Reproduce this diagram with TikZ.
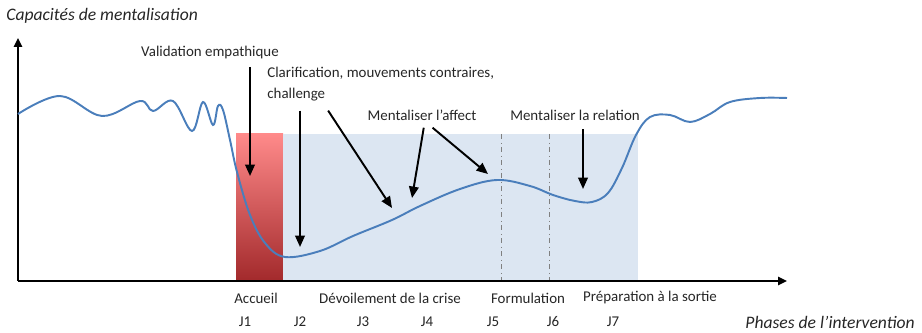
\documentclass[tikz,border=0pt]{standalone}
\usepackage{fontspec}
\setmainfont{Carlito}
\usetikzlibrary{arrows.meta}
\definecolor{curveblue}{HTML}{4A7EBB}
\definecolor{phaseblue}{HTML}{DCE6F2}
\definecolor{txt}{HTML}{262626}
\definecolor{redtop}{HTML}{FF8A8A}
\definecolor{redmid}{HTML}{E8383C}
\definecolor{redbot}{HTML}{A32A2C}

\begin{document}
\begin{tikzpicture}
[x=0.02cm,y=-0.02cm,
every node/.style={font=\fontsize{8.5}{10}\selectfont,text=txt,inner sep=0pt},
axe/.style={line width=1.2pt,-{Triangle[width=4.5pt,length=5pt]}},
arr/.style={line width=1.1pt,-{Triangle[width=5.5pt,length=6.5pt]}},
axlabel/.style={font=\fontsize{10}{12}\selectfont\itshape}]
\useasboundingbox (0,0) rectangle (922,333);
% zones
\shade[top color=redtop,middle color=redmid,bottom color=redbot] (236,134) rectangle (283,280);
\fill[phaseblue] (283,134) rectangle (638,280);
\draw[gray,thin,dash dot] (501,134) -- (501,280);
\draw[gray,thin,dash dot] (549,134) -- (549,280);
% axes
\coordinate (o) at (18,281);
\draw[axe] (o) -- (18,38);
\draw[axe] (o) -- (787,281);
\node[axlabel,anchor=west] (ylab) at (6,16) {Capacités de mentalisation};
\node[axlabel,anchor=east] (xlab) at (915,322) {Phases de l’intervention};
% courbe
\draw[curveblue,line width=1.1pt] plot[smooth,tension=0.6] coordinates {
(18,114) (60,96) (102,116) (140,101) (153,111) (173,101) (192,131) (203,102)
(213,125) (218,106) (223,110) (230,140) (237,172) (250,215) (265,243) (285,257)
(320,251) (353,236) (392,220) (420,206) (460,189) (497,180) (530,186) (553,195)
(575,201) (592,202) (608,193) (622,168) (636,135) (650,117) (670,115) (690,122)
(710,114) (730,102) (760,98) (787,98)};
% interventions
\node (val) at (210,53) {Validation empathique};
\node[anchor=west,align=left] (clar) at (267,73) {Clarification, mouvements contraires,};
\node[anchor=west] (chal) at (267,95) {challenge};
\node (aff) at (422,115) {Mentaliser l’affect};
\node (rel) at (575,115) {Mentaliser la relation};
\coordinate (t1) at (250,176);
\coordinate (t2) at (300,247);
\coordinate (t3) at (392,208);
\coordinate (t4) at (412,198);
\coordinate (t5) at (488,174);
\coordinate (t6) at (583,189);
\draw[arr] ([yshift=-4pt]val.south -| t1) -- (t1);
\draw[arr] ([yshift=-5pt]chal.south -| t2) -- (t2);
\draw[arr] ([xshift=16pt,yshift=-5pt]chal.south -| t2) -- (t3);
\draw[arr] ([xshift=1pt,yshift=-4pt]aff.south) -- (t4);
\draw[arr] ([xshift=6pt,yshift=-4pt]aff.south) -- (t5);
\draw[arr] ([yshift=-5pt]rel.south -| t6) -- (t6);
% phases
\node (p1) at (256,298) {Accueil};
\node (p2) at (390,298) {Dévoilement de la crise};
\node (p3) at (528,298) {Formulation};
\node (p4) at (650,298) {Préparation à la sortie};
\foreach \j/\x in {1/245,2/300,3/363,4/427,5/493,6/553,7/613}
\node (j\j) at (\x,322) {J\j};
\end{tikzpicture}
\end{document}
